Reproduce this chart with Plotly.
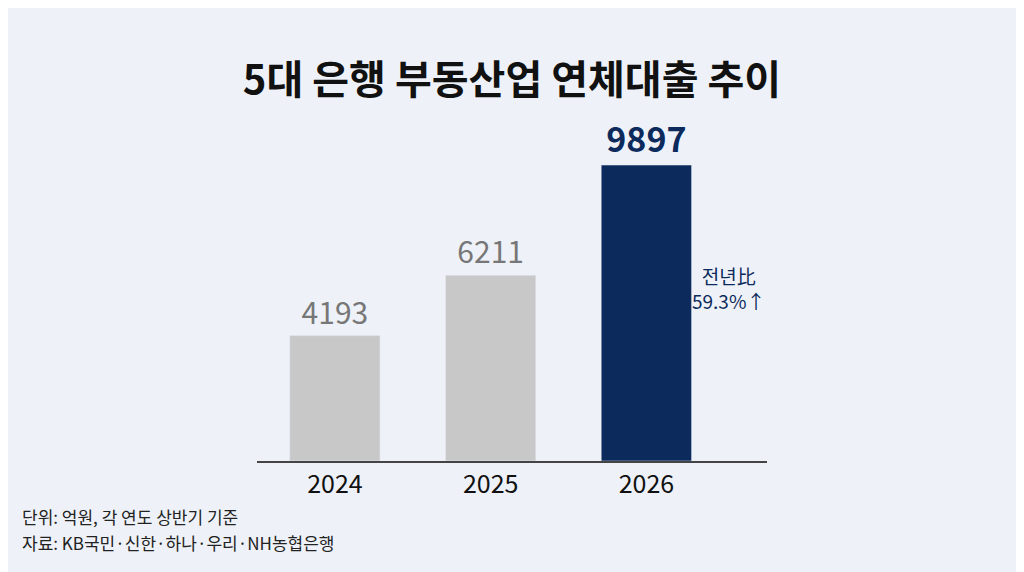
import plotly.graph_objects as go

years = ["2024", "2025", "2026"]
values = [4193, 6211, 9897]
labels = ["4193", "6211", "9897"]
colors = ["#c8c8c8", "#c8c8c8", "#0c2a5c"]

font = "Noto Sans CJK KR"
fig = go.Figure(go.Bar(
    x=years, y=values, marker_color=colors, width=0.58,
    text=labels, textposition="outside", cliponaxis=False,
    textfont=dict(size=[30, 30, 34], color=["#777777", "#777777", "#0c2a5c"], family=font),
))
fig.data[0].texttemplate = ["%{text}", "%{text}", "<b>%{text}</b>"]
fig.update_layout(
    width=1024, height=572, paper_bgcolor="#eef2f8", plot_bgcolor="#eef2f8",
    margin=dict(l=249, r=265, t=92, b=119), showlegend=False,
    font=dict(family=font),
    title=dict(text="<b>5대 은행 부동산업 연체대출 추이</b>", x=(512 - 8) / 1024, y=1 - 72 / 572,
               xanchor="center", yanchor="middle",
               font=dict(size=40, color="#111111", family=font)),
    xaxis=dict(showline=True, linecolor="#444444", linewidth=1.5, ticks="",
               tickfont=dict(size=25, color="#111111", family=font)),
    yaxis=dict(visible=False, range=[0, 12073]),
)
fig.add_annotation(x=2.28, y=5800, xref="x", yref="y", text="전년比<br>59.3%↑", showarrow=False,
                   xanchor="left", align="center", font=dict(size=19, color="#0c2a5c", family=font))
fig.add_annotation(x=(12 - 249) / 510, y=-55 / 361, xref="paper", yref="paper", xanchor="left", yanchor="middle",
                   text="단위: 억원, 각 연도 상반기 기준", showarrow=False,
                   font=dict(size=17, color="#222222", family=font))
fig.add_annotation(x=(12 - 249) / 510, y=-81 / 361, xref="paper", yref="paper", xanchor="left", yanchor="middle",
                   text="자료: KB국민·신한·하나·우리·NH농협은행", showarrow=False,
                   font=dict(size=17, color="#222222", family=font))
fig.write_html("out.html")
